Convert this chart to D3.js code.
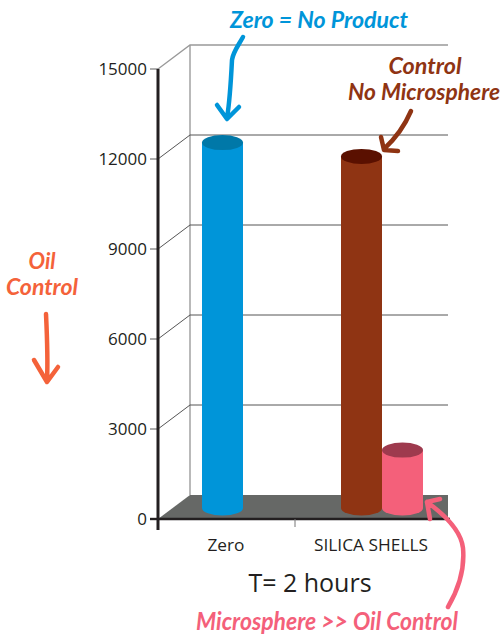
<!DOCTYPE html>
<html lang="en">
<head>
  <meta charset="utf-8">
  <script src="https://d3js.org/d3.v7.min.js"></script>
  <style>
    html, body { margin: 0; padding: 0; background: #fff; }
    svg { display: block; }
    text { font-family: "Open Sans", sans-serif; fill: #231f20; }
    .note { font-family: Lato, sans-serif; font-style: italic; font-weight: 700; text-anchor: middle; }
  </style>
</head>
<body>
  <svg width="502" height="639"></svg>

  <script>
    const categories = ["Zero", "SILICA SHELLS"];
    const yTicks = [0, 3000, 6000, 9000, 12000, 15000];
    // one list per category, bars stand next to each other inside the group
    const zeroValues = [12180];
    const silicaValues = [11720, 1930];
    const zeroColors = [{ side: "#0095d9", top: "#0078a8" }];
    const silicaColors = [{ side: "#8f3413", top: "#5a1000" }, { side: "#f4607a", top: "#9e3a4e" }];

    const svg = d3.select("svg");

    const y = d3.scaleLinear().domain([0, 15000]).range([519, 69]);
    const xAxisBand = d3.scaleBand().domain(categories).range([158, 432]);
    const barGroup = d3.scaleBand().domain(categories).range([142.75, 461.75]);
    const barW = 41, rx = barW / 2, ry = 7.5;
    const depthX = 32, depthY = 24, barLift = 11, wallRight = 448;
    const labelShift = { "Zero": -0.5, "SILICA SHELLS": 7.5 };
    const labelWidth = { "Zero": 37, "SILICA SHELLS": 114 };

    // walls and floor
    svg.append("polygon")
      .attr("fill", "#666866")
      .attr("points", [[158, y(0)], [158 + depthX, y(0) - depthY], [wallRight, y(0) - depthY], [wallRight, y(0)]].join(" "));

    svg.append("line")
      .attr("x1", 158 + depthX).attr("x2", 158 + depthX)
      .attr("y1", y(15000) - depthY).attr("y2", y(0) - depthY)
      .attr("stroke", "#8a8a8a").attr("stroke-width", 1.2);

    const grid = svg.append("g").selectAll("g").data(yTicks).enter().append("g");
    grid.filter(d => d > 0).append("polyline")
      .attr("fill", "none")
      .attr("stroke", d => d === 15000 ? "#999" : "#555")
      .attr("stroke-width", d => d === 15000 ? 1.3 : 1)
      .attr("points", d => [[158, y(d)], [158 + depthX, y(d) - depthY], [wallRight, y(d) - depthY]].join(" "));
    grid.append("line")
      .attr("x1", 150).attr("x2", 158)
      .attr("y1", d => y(d)).attr("y2", d => y(d))
      .attr("stroke", d => d === 0 ? "#231f20" : "#777")
      .attr("stroke-width", d => d === 0 ? 2.4 : 1.2);
    grid.append("text")
      .attr("x", 147).attr("y", d => y(d))
      .attr("dy", "0.36em")
      .attr("text-anchor", "end")
      .style("font-size", "17px")
      .text(d => d);

    // cylinders
    function drawBars(cat, values, colors) {
      const group = svg.append("g");
      const left = barGroup(cat) + barGroup.bandwidth() / 2 - values.length * barW / 2;
      values.forEach((v, i) => {
        const x0 = left + i * barW;
        const yTop = y(v) - barLift, yBase = y(0) - barLift;
        group.append("path")
          .attr("fill", colors[i].side)
          .attr("d", `M${x0},${yTop}V${yBase}A${rx},${ry} 0 0 0 ${x0 + barW},${yBase}V${yTop}Z`);
        group.append("ellipse")
          .attr("cx", x0 + rx).attr("cy", yTop)
          .attr("rx", rx).attr("ry", ry)
          .attr("fill", colors[i].top);
      });
    }
    drawBars("Zero", zeroValues, zeroColors);
    drawBars("SILICA SHELLS", silicaValues, silicaColors);

    // axes
    svg.append("line")
      .attr("x1", 158).attr("x2", 158)
      .attr("y1", y(15000)).attr("y2", y(0) + 11)
      .attr("stroke", "#231f20").attr("stroke-width", 3);
    svg.append("line")
      .attr("x1", 157).attr("x2", wallRight + 2)
      .attr("y1", y(0)).attr("y2", y(0))
      .attr("stroke", "#231f20").attr("stroke-width", 2.6);
    svg.append("line")
      .attr("x1", xAxisBand("SILICA SHELLS")).attr("x2", xAxisBand("SILICA SHELLS"))
      .attr("y1", y(0)).attr("y2", y(0) + 8)
      .attr("stroke", "#777").attr("stroke-width", 1);

    svg.append("g").selectAll("text").data(categories).enter().append("text")
      .attr("x", d => xAxisBand(d) + xAxisBand.bandwidth() / 2 + labelShift[d])
      .attr("y", 551)
      .attr("text-anchor", "middle")
      .attr("textLength", d => labelWidth[d])
      .attr("lengthAdjust", "spacingAndGlyphs")
      .style("font-size", "16.5px")
      .text(d => d);

    svg.append("text")
      .attr("x", 310).attr("y", 592)
      .attr("text-anchor", "middle")
      .style("font-size", "25px")
      .text("T= 2 hours");

    // hand written notes
    function note(txt, cx, base, size, color, width) {
      svg.append("text").attr("class", "note")
        .attr("x", cx).attr("y", base)
        .attr("textLength", width).attr("lengthAdjust", "spacingAndGlyphs")
        .style("font-size", size + "px")
        .style("fill", color)
        .text(txt);
    }
    function arrow(d, color) {
      svg.append("path")
        .attr("d", d)
        .attr("fill", "none")
        .attr("stroke", color)
        .attr("stroke-width", 4.5)
        .attr("stroke-linecap", "round")
        .attr("stroke-linejoin", "round");
    }

    note("Zero = No Product", 319, 28, 23, "#0095d9", 178);
    arrow("M243,37C238,46 233,52 232,60C231,80 230,100 227,118M217,105L227,119L239,107", "#0095d9");

    note("Control", 425, 74, 23, "#8f3413", 73);
    note("No Microsphere", 424, 100, 23, "#8f3413", 152);
    arrow("M411,111C405,125 397,137 384,149M381,137L384,150L398,151", "#8f3413");

    note("Oil", 42, 269, 23, "#f4623a", 27);
    note("Control", 42, 295, 23, "#f4623a", 72);
    arrow("M46,314C47,335 48,360 47,381M34,360L47,382L58,367", "#f4623a");

    note("Microsphere >> Oil Control", 327, 630, 24, "#f4607a", 262);
    arrow("M448,607C458,590 465,570 463,548C461,530 445,515 427,502M440,499L427,502L430,519", "#f4607a");
  </script>
</body>
</html>
